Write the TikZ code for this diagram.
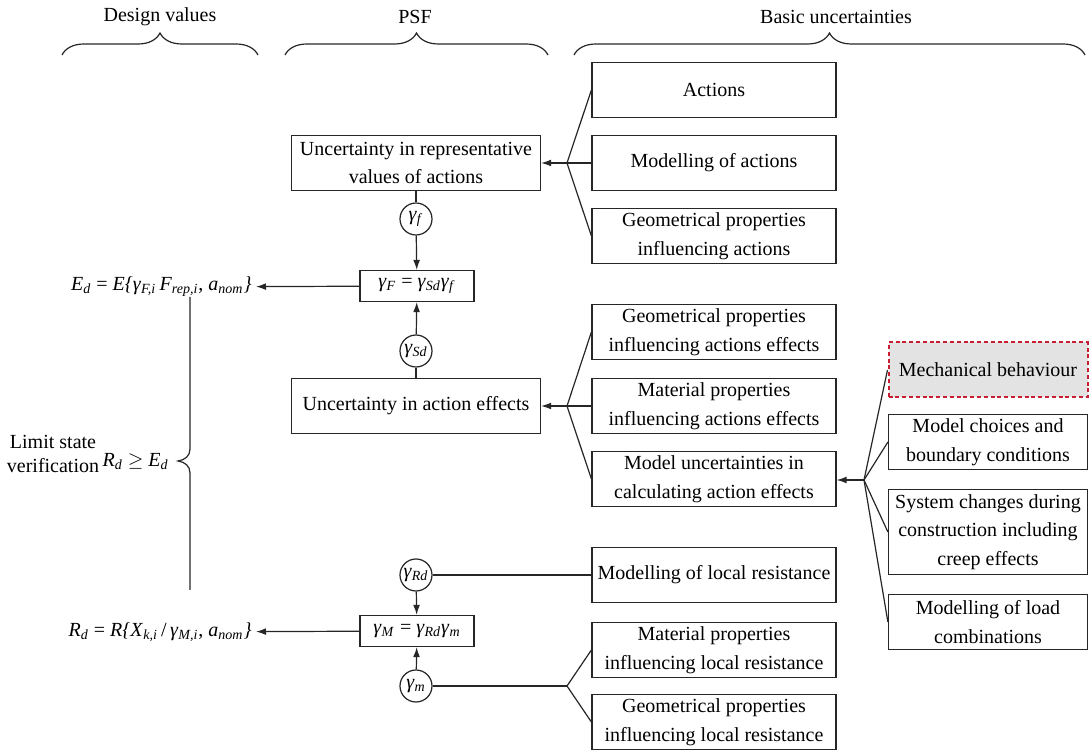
\documentclass[tikz,border=0pt]{standalone}
\usepackage{fontspec}
\setmainfont{Liberation Serif}
\usetikzlibrary{positioning, arrows.meta, decorations.pathreplacing}
\colorlet{rule}{black!85}
\definecolor{accR}{RGB}{200,30,50}
\colorlet{shade}{black!11}
\newcommand\vsub[2]{\textit{#1}\textsubscript{\textit{#2}}}
\tikzset{
  card/.style   ={draw=rule, inner sep=2pt, align=center,
                  font=\rmfamily\fontsize{10}{14.4}\selectfont, line width=0.6pt},
  Lmid/.style   ={card, minimum width=124.5pt, minimum height=27.5pt},
  Lbase/.style  ={card, minimum width=122pt, minimum height=27.5pt},
  Lsub/.style   ={card, minimum width=99.5pt, minimum height=27.5pt},
  Lprod/.style  ={card, minimum width=57pt, minimum height=15.5pt},
  Lpsf/.style   ={draw=rule, circle, inner sep=0pt, minimum size=16pt,
                  line width=0.6pt, font=\rmfamily\fontsize{10}{12}\selectfont},
  Lfocus/.style ={Lsub, fill=shade, draw=accR, dash pattern=on 2pt off 1.4pt,
                  line width=1pt},
  feed/.style   ={-{Latex[length=5pt,width=3.4pt]}, rule, line width=0.6pt},
  branch/.style ={-, rule, line width=0.6pt},
  group/.style  ={decorate, decoration={brace, amplitude=11pt}, rule,
                  line width=0.6pt},
  head/.style   ={font=\rmfamily\fontsize{10}{12}\selectfont},
  formula/.style={font=\rmfamily\fontsize{10}{12}\selectfont, inner sep=2pt},
}
\begin{document}
\begin{tikzpicture}[x=0.5pt, y=-0.5pt]
\useasboundingbox (0,0) rectangle (1089,754);

% headers
\node[head] (hDV)  at (160,17) {Design values};
\node[head] (hPSF) at (415,17) {PSF};
\node[head] (hBU)  at (836,17) {Basic uncertainties};
\draw[group] (62,55) -- (258,55);
\draw[group] (285,55) -- (548,55);
\draw[group] (574,55) -- (1085,55);

% PSF column
\node[Lmid] (uncRep) at (416,163) {Uncertainty in representative\\values of actions};
\node[Lpsf] (gf)  at (416,219) {\vsub{γ}{f}};
\node[Lprod] (gF) at (417,286) {\vsub{γ}{F} = \vsub{γ}{Sd}\vsub{γ}{f}};
\node[Lpsf] (gSd) at (416,351) {\vsub{γ}{Sd}};
\node[Lmid] (uncEff) at (416,406) {Uncertainty in action effects};
\node[Lpsf] (gRd) at (416,575) {\vsub{γ}{Rd}};
\node[Lprod] (gM) at (417,631) {\vsub{γ}{M} = \vsub{γ}{Rd}\vsub{γ}{m}};
\node[Lpsf] (gm)  at (416,686) {\vsub{γ}{m}};
\draw[branch] (uncRep) -- (gf);
\draw[feed] (gf) -- (gF);
\draw[branch] (uncEff) -- (gSd);
\draw[feed] (gSd) -- (gF);
\draw[feed] (gRd) -- (gM);
\draw[feed] (gm) -- (gM);

% design values
\node[formula, anchor=east] (Ed) at (256,287)
  {\vsub{E}{d} = \textit{E\{}\vsub{γ}{F,i}\,\vsub{F}{rep,i}, \vsub{a}{nom}\textit{\}}};
\node[formula, anchor=east] (Rd) at (256,632)
  {\vsub{R}{d} = \textit{R\{}\vsub{X}{k,i}\,/\,\vsub{γ}{M,i}, \vsub{a}{nom}\textit{\}}};
\draw[feed] (gF) -- (Ed);
\draw[feed] (gM) -- (Rd);
\node[head, align=center] (lsv) at (53,454) {Limit state\\verification};
\node[formula, anchor=east] (RgE) at (173,462) {\vsub{R}{d} $\geq$ \vsub{E}{d}};
\draw[branch] (190,297) -- (190,449)
  .. controls (190,456) and (185,460) .. (178,461)
  .. controls (185,462) and (190,466) .. (190,473) -- (190,590);

% basic uncertainties: actions
\node[Lbase] (act)    at (714,90)  {Actions};
\node[Lbase] (modAct) at (714,163) {Modelling of actions};
\node[Lbase] (geoAct) at (714,236) {Geometrical properties\\influencing actions};
\coordinate (fanA) at (567,163);
\draw[feed] (fanA) -- (uncRep);
\foreach \b in {act, modAct, geoAct}
  \draw[branch] (fanA) -- (\b.west);

% basic uncertainties: action effects
\node[Lbase] (geoEff) at (714,332) {Geometrical properties\\influencing actions effects};
\node[Lbase] (matEff) at (714,406) {Material properties\\influencing actions effects};
\node[Lbase] (modEff) at (714,479) {Model uncertainties in\\calculating action effects};
\coordinate (fanE) at (567,406);
\draw[feed] (fanE) -- (uncEff);
\foreach \b in {geoEff, matEff, modEff}
  \draw[branch] (fanE) -- (\b.west);

% model uncertainties
\node[Lfocus] (mech)  at (988,370) {Mechanical behaviour};
\node[Lsub]   (bound) at (988,442) {Model choices and\\boundary conditions};
\node[Lsub, minimum height=42.5pt] (sys) at (988,532)
  {System changes during\\construction including\\creep effects};
\node[Lsub]   (load)  at (988,622) {Modelling of load\\combinations};
\coordinate (fanM) at (864,480);
\draw[feed] (fanM) -- (modEff.east |- fanM);
\foreach \b in {mech, bound, sys, load}
  \draw[branch] (fanM) -- (\b.west);

% basic uncertainties: resistance
\node[Lbase] (modRes) at (714,575) {Modelling of local resistance};
\node[Lbase] (matRes) at (714,650) {Material properties\\influencing local resistance};
\node[Lbase] (geoRes) at (714,722) {Geometrical properties\\influencing local resistance};
\draw[branch] (gRd) -- (modRes);
\coordinate (fanR) at (567,686);
\draw[branch] (gm) -- (fanR);
\foreach \b in {matRes, geoRes}
  \draw[branch] (fanR) -- (\b.west);

\end{tikzpicture}
\end{document}
